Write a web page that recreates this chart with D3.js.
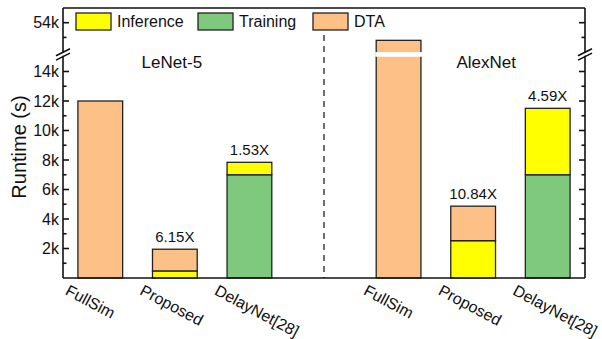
<!DOCTYPE html>
<html><head><meta charset="utf-8">
<script src="https://cdn.jsdelivr.net/npm/d3@7"></script>
<style>body{margin:0;background:#fff}svg{display:block;font-family:"Liberation Sans",Arial,sans-serif}</style>
</head><body><svg id="c" width="602" height="339" font-family="Liberation Sans, Arial, sans-serif"></svg>
<script>
// ---- data ----
const groups = ["LeNet-5", "AlexNet"];
const methods = ["FullSim", "Proposed", "DelayNet[28]"];
const inference = [0, 480, 843, 0, 2530, 4503];
const training = [0, 0, 7000, 0, 0, 7000];
const dta = [12000, 1471, 0, 52800, 2340, 0];
const speedups = ["", "6.15X", "1.53X", "", "10.84X", "4.59X"];
const lowTicks = [2000, 4000, 6000, 8000, 10000, 12000, 14000];
const highTicks = [54000];
const seriesNames = ["Inference", "Training", "DTA"];
const colors = {Inference: "#ffff00", Training: "#7fc97f", DTA: "#fdc086"};

// ---- layout ----
const svg = d3.select("#c");
const L = 63, R = 585, T = 8, B = 278;
const slots = [];
const rows = [];
groups.forEach((g, gi) => {
  methods.forEach((m, mi) => {
    const i = gi * methods.length + mi;
    const key = g + "|" + m;
    slots.push(key);
    rows.push({key, group: g, method: m, Inference: inference[i], Training: training[i], DTA: dta[i], label: speedups[i]});
  });
  if (gi === 0) slots.push("gap");
});
const x = d3.scaleBand().domain(slots).range([L, R]).paddingInner(0.4).paddingOuter(0.2);
const yLow = d3.scaleLinear().domain([0, 15000]).range([B, 56.75]);
const yUp = d3.scaleLinear().domain([52000, 55000]).range([52.1, T]);
const y = v => v <= 15000 ? yLow(v) : yUp(v);

const stack = d3.stack().keys(["Training", "Inference", "DTA"]);
const layers = stack(rows);

// bars
layers.forEach(layer => {
  svg.append("g").selectAll("rect").data(layer.filter(d => d[1] - d[0] > 0)).join("rect")
    .attr("x", d => x(d.data.key))
    .attr("width", x.bandwidth())
    .attr("y", d => y(d[1]))
    .attr("height", d => y(d[0]) - y(d[1]))
    .attr("fill", colors[layer.key])
    .attr("stroke", "#222").attr("stroke-width", 1.3);
});
// break stripe in tall bars
rows.filter(r => r.Training + r.Inference + r.DTA > 15000).forEach(r => {
  svg.append("rect").attr("x", x(r.key) - 1).attr("width", x.bandwidth() + 2)
    .attr("y", yUp(52000)).attr("height", yLow(15000) - yUp(52000)).attr("fill", "#fff");
});

// speedup labels
svg.append("g").selectAll("text").data(rows.filter(r => r.label)).join("text")
  .attr("x", d => x(d.key) + x.bandwidth() / 2)
  .attr("y", d => y(d.Training + d.Inference + d.DTA) - 7)
  .attr("text-anchor", "middle").attr("font-size", 15).attr("fill", "#111")
  .text(d => d.label);

// divider
svg.append("line").attr("x1", x("gap") + x.bandwidth() / 2).attr("x2", x("gap") + x.bandwidth() / 2)
  .attr("y1", 35).attr("y2", B).attr("stroke", "#222").attr("stroke-width", 1.3).attr("stroke-dasharray", "6,5");

// group titles
groups.forEach((g, gi) => {
  const k = g + "|" + methods[1];
  svg.append("text").attr("x", x(k) + x.bandwidth() / 2 + (gi === 0 ? -3 : 13)).attr("y", 68)
    .attr("text-anchor", "middle").attr("font-size", 17).attr("fill", "#111").text(g);
});

// axes frame
const ax = svg.append("g").attr("stroke", "#111").attr("stroke-width", 1.6);
ax.append("line").attr("x1", L).attr("x2", R).attr("y1", B).attr("y2", B);
ax.append("line").attr("x1", L).attr("x2", R).attr("y1", T).attr("y2", T);
[L, R].forEach(px => {
  ax.append("line").attr("x1", px).attr("x2", px).attr("y1", T).attr("y2", yUp(52000) + 1);
  ax.append("line").attr("x1", px).attr("x2", px).attr("y1", yLow(15000) - 1).attr("y2", B);
});
// ticks
const dir = {[L]: 1, [R]: -1};
const majorLow = lowTicks, minorLow = d3.range(1000, 15000, 2000);
const majorUp = highTicks, minorUp = [53000];
[L, R].forEach(px => {
  const s = dir[px];
  majorLow.forEach(v => ax.append("line").attr("x1", px).attr("x2", px + s * 6).attr("y1", yLow(v)).attr("y2", yLow(v)));
  minorLow.forEach(v => ax.append("line").attr("x1", px).attr("x2", px + s * 3.5).attr("y1", yLow(v)).attr("y2", yLow(v)));
  majorUp.forEach(v => ax.append("line").attr("x1", px).attr("x2", px + s * 6).attr("y1", yUp(v)).attr("y2", yUp(v)));
  minorUp.forEach(v => ax.append("line").attr("x1", px).attr("x2", px + s * 3.5).attr("y1", yUp(v)).attr("y2", yUp(v)));
  // break slashes
  [-2.2, 2.2].forEach(o => {
    const cy = (yUp(52000) + yLow(15000)) / 2 + o;
    ax.append("line").attr("x1", px - 7).attr("x2", px + 7).attr("y1", cy + 3.5).attr("y2", cy - 3.5);
  });
});
// tick labels
const tl = svg.append("g").attr("font-size", 16).attr("fill", "#111").attr("text-anchor", "end");
lowTicks.forEach(v => tl.append("text").attr("x", L - 4).attr("y", yLow(v) + 5.5).text(d3.format("d")(v / 1000) + "k"));
highTicks.forEach(v => tl.append("text").attr("x", L - 4).attr("y", yUp(v) + 5.5).text(d3.format("d")(v / 1000) + "k"));

// y title
svg.append("text").attr("transform", `translate(26,${(T + B) / 2 + 4}) rotate(-90)`)
  .attr("text-anchor", "middle").attr("font-size", 20).attr("fill", "#111").text("Runtime (s)");

// x labels
svg.append("g").selectAll("text").data(rows).join("text")
  .attr("transform", d => `translate(${x(d.key) + x.bandwidth() / 2 - 36},294) rotate(28)`)
  .attr("font-size", 16).attr("fill", "#111").text(d => d.method);

// legend
const lg = svg.append("g");
const legX = [76, 198, 313];
seriesNames.forEach((n, i) => {
  lg.append("rect").attr("x", legX[i]).attr("y", 13).attr("width", 35).attr("height", 17)
    .attr("fill", colors[n]).attr("stroke", "#222").attr("stroke-width", 1.3);
  lg.append("text").attr("x", legX[i] + 41).attr("y", 27).attr("font-size", 16).attr("fill", "#111").text(n);
});
</script></body></html>
